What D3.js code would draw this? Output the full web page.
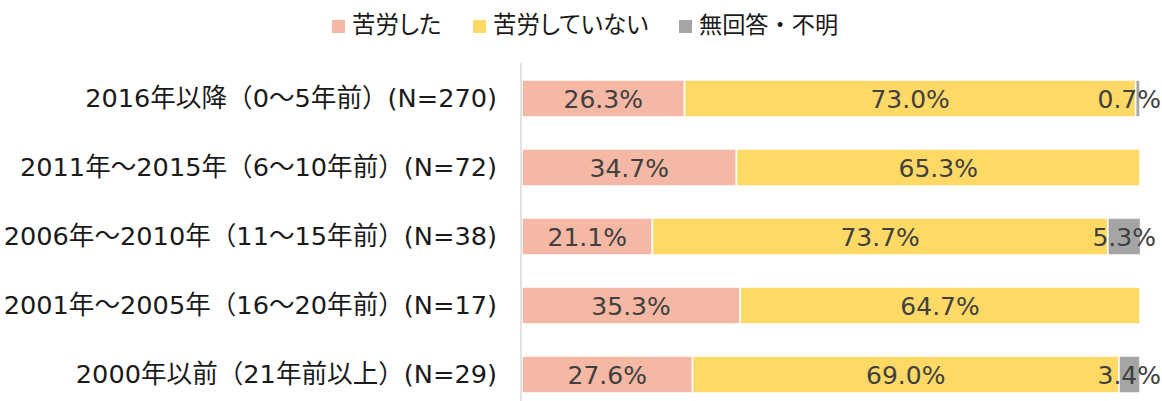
<!DOCTYPE html>
<html><head><meta charset="utf-8">
<script src="https://cdn.jsdelivr.net/npm/d3@7"></script>
<style>body{margin:0;background:#fff;} text{font-family:"DejaVu Sans","Noto Sans CJK JP",sans-serif;}</style>
</head><body>
<svg id="c" width="1162" height="401"></svg>
<script>
const categories = ["2016年以降（0～5年前）(N=270)","2011年～2015年（6～10年前）(N=72)","2006年～2010年（11～15年前）(N=38)","2001年～2005年（16～20年前）(N=17)","2000年以前（21年前以上）(N=29)"];
const seriesNames = ["苦労した","苦労していない","無回答・不明"];
const hard = [26.3, 34.7, 21.1, 35.3, 27.6];
const notHard = [73.0, 65.3, 73.7, 64.7, 69.0];
const unknown = [0.7, 0, 5.3, 0, 3.4];
const colors = ["#F4B8A4","#FFD966","#A5A5A5"];

const svg = d3.select("#c");
const x = d3.scaleLinear().domain([0,100]).range([522,1140]);
const y = d3.scaleBand().domain(categories).range([64,64+5*69]).paddingInner(0.464).paddingOuter(0.232);

const rows = categories.map((c,i)=>{
  const vals=[hard[i],notHard[i],unknown[i]];
  let acc=0;
  return vals.map((v,k)=>{const s={cat:c,k,v,x0:acc,x1:acc+v};acc+=v;return s;});
}).flat();

svg.append("g").selectAll("rect").data(rows.filter(d=>d.v>0)).join("rect")
  .attr("x",d=>x(d.x0)).attr("width",d=>x(d.x1)-x(d.x0))
  .attr("y",d=>y(d.cat)).attr("height",y.bandwidth())
  .attr("fill",d=>colors[d.k]).attr("stroke","#fff").attr("stroke-width",1.5);

// axis line
svg.append("line").attr("x1",521).attr("x2",521).attr("y1",63).attr("y2",401)
  .attr("stroke","#d9d9d9").attr("stroke-width",1.5);

// category labels
svg.append("g").selectAll("text").data(categories).join("text")
  .attr("x",497).attr("y",d=>y(d)+y.bandwidth()/2).attr("dy","0.35em")
  .attr("text-anchor","end").attr("font-size",25.6).attr("fill","#1a1a1a").text(d=>d);

// value labels
const lg = svg.append("g");
rows.filter(d=>d.v>0).forEach(d=>{
  const t = lg.append("text").attr("font-size",25).attr("fill","#404040")
    .attr("y",y(d.cat)+y.bandwidth()/2).attr("dy","0.36em").attr("text-anchor","middle")
    .text(d.v.toFixed(1)+"%");
  const w = t.node().getComputedTextLength();
  let cx = (x(d.x0)+x(d.x1))/2;
  cx = Math.min(cx, 1161 - w/2);
  t.attr("x",cx);
});

// legend
const legX = [332,473,679];
const leg = svg.append("g");
seriesNames.forEach((n,i)=>{
  leg.append("rect").attr("x",legX[i]).attr("y",20).attr("width",13).attr("height",13).attr("fill",colors[i]);
  leg.append("text").attr("x",legX[i]+20).attr("y",25).attr("dy","0.36em")
    .attr("font-size", i===2 ? 23.2 : 23.5)
    .style("font-feature-settings", i===2 ? "normal" : "'palt'")
    .attr("fill","#1a1a1a").text(n);
});
</script>
</body></html>
